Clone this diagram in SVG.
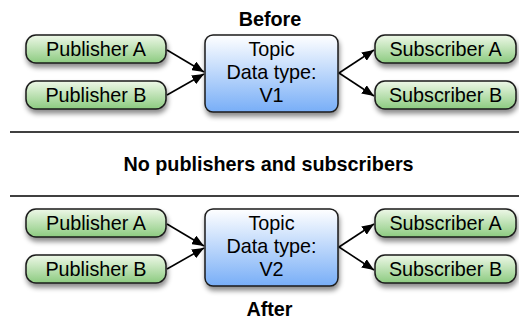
<svg xmlns="http://www.w3.org/2000/svg" width="519" height="320" viewBox="0 0 519 320">
<defs>
<linearGradient id="gGreen" x1="0" y1="0" x2="0" y2="1">
<stop offset="0" stop-color="#eef8e8"/>
<stop offset="1" stop-color="#8ccb80"/>
</linearGradient>
<linearGradient id="gBlue" x1="0" y1="0" x2="0" y2="1">
<stop offset="0" stop-color="#ffffff"/>
<stop offset="1" stop-color="#78aef7"/>
</linearGradient>
<filter id="shadow" x="-20%" y="-30%" width="140%" height="170%">
<feDropShadow dx="1" dy="4" stdDeviation="2.5" flood-color="#000" flood-opacity="0.45"/>
</filter>
<marker id="arr" viewBox="0 0 12 10" refX="12" refY="5" markerWidth="12" markerHeight="10" markerUnits="userSpaceOnUse" orient="auto">
<path d="M0,0 L12,5 L0,10 z" fill="#000"/>
</marker>
</defs>
<style>
.node rect{stroke:#1a1a1a;stroke-width:1.5;filter:url(#shadow)}
.pub rect,.sub rect{fill:url(#gGreen)}
.topic rect{fill:url(#gBlue)}
text{font-family:"Liberation Sans",Arial,sans-serif;font-size:19.8px;fill:#000;text-anchor:middle}
.title{font-weight:bold;font-size:19.8px}
.conn line{stroke:#000;stroke-width:1.6;marker-end:url(#arr)}
.sep{stroke:#000;stroke-width:1.5}
</style>

<text class="title" x="270" y="26">Before</text>
<g id="pubA1" class="node pub"><rect x="26" y="35" width="140" height="28" rx="10"/><text x="96" y="56">Publisher A</text></g>
<g id="pubB1" class="node pub"><rect x="26" y="81" width="140" height="28" rx="10"/><text x="96" y="102">Publisher B</text></g>
<g id="topic1" class="node topic"><rect x="205" y="35" width="133" height="77" rx="8"/><text x="271.5" y="56">Topic</text><text x="271.5" y="79">Data type:</text><text x="271.5" y="102">V1</text></g>
<g id="subA1" class="node sub"><rect x="375" y="35" width="141" height="28" rx="10"/><text x="445.5" y="56">Subscriber A</text></g>
<g id="subB1" class="node sub"><rect x="375" y="81" width="141" height="28" rx="10"/><text x="445.5" y="102">Subscriber B</text></g>

<line class="sep" x1="10" y1="132" x2="519" y2="132"/>
<text class="title" x="268.5" y="171">No publishers and subscribers</text>
<line class="sep" x1="10" y1="196" x2="519" y2="196"/>

<g id="pubA2" class="node pub"><rect x="26" y="209" width="140" height="28" rx="10"/><text x="96" y="230">Publisher A</text></g>
<g id="pubB2" class="node pub"><rect x="26" y="255" width="140" height="28" rx="10"/><text x="96" y="276">Publisher B</text></g>
<g id="topic2" class="node topic"><rect x="205" y="209" width="133" height="77" rx="8"/><text x="271.5" y="230">Topic</text><text x="271.5" y="253">Data type:</text><text x="271.5" y="276">V2</text></g>
<g id="subA2" class="node sub"><rect x="375" y="209" width="141" height="28" rx="10"/><text x="445.5" y="230">Subscriber A</text></g>
<g id="subB2" class="node sub"><rect x="375" y="255" width="141" height="28" rx="10"/><text x="445.5" y="276">Subscriber B</text></g>
<text class="title" x="269.5" y="316">After</text>

<g id="connectors" class="conn">
<line x1="167" y1="50" x2="204" y2="72"/>
<line x1="167" y1="95" x2="204" y2="74"/>
<line x1="339" y1="73" x2="374" y2="50"/>
<line x1="339" y1="73" x2="374" y2="96"/>
<line x1="167" y1="224" x2="204" y2="246"/>
<line x1="167" y1="269" x2="204" y2="248"/>
<line x1="339" y1="247" x2="374" y2="224"/>
<line x1="339" y1="247" x2="374" y2="270"/>
</g>
</svg>
